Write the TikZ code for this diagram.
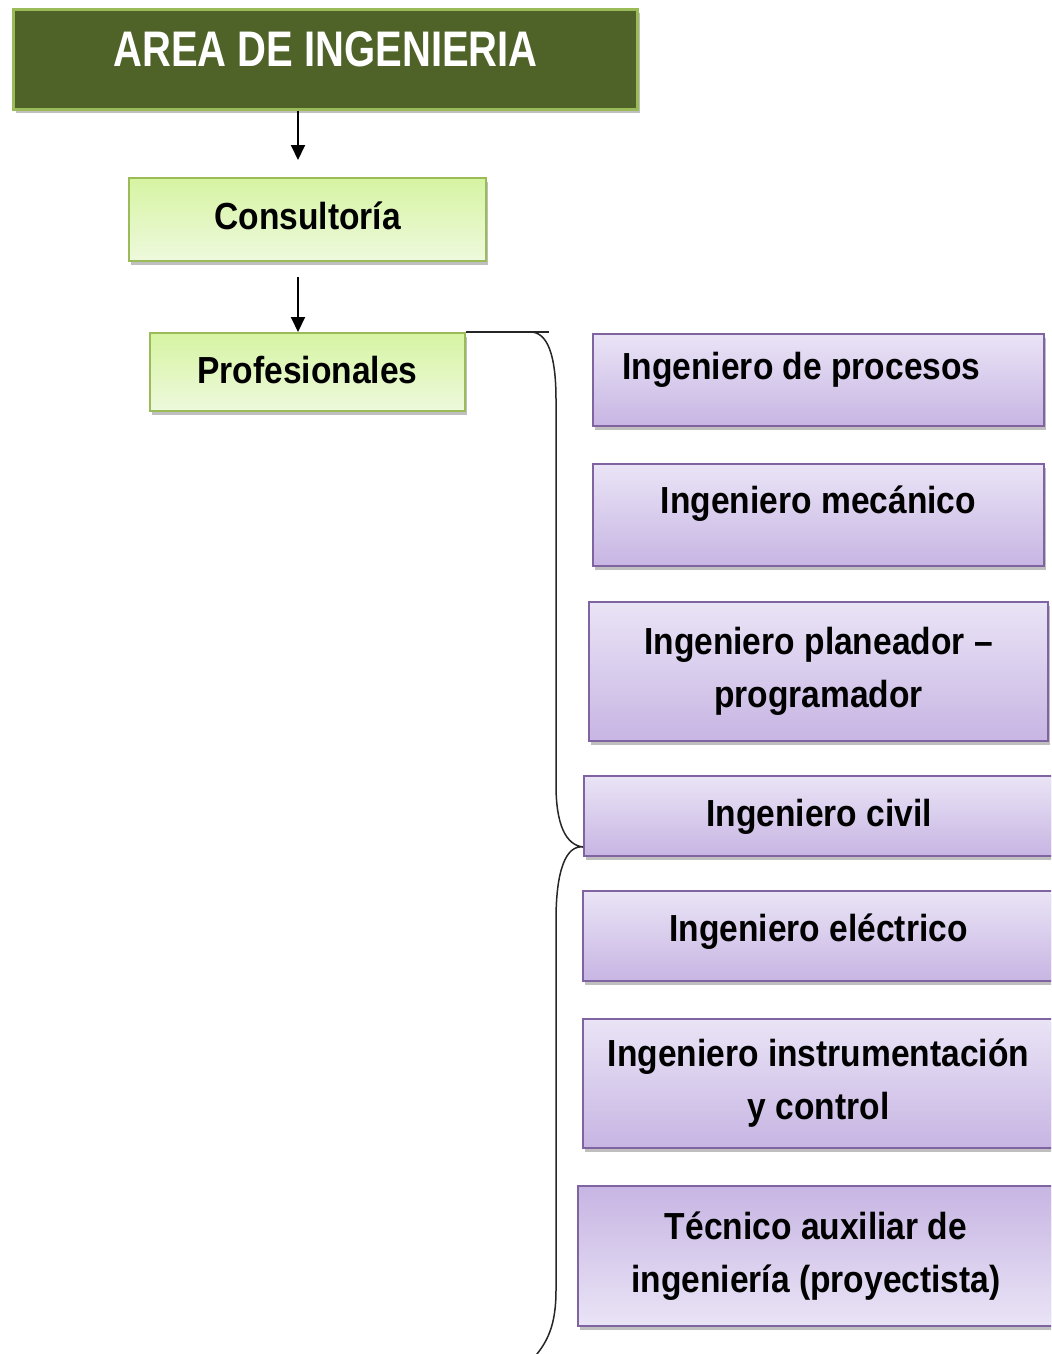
\documentclass[tikz,border=0pt]{standalone}
\usepackage{fontspec}
\setmainfont{Liberation Sans}[FakeStretch=0.89]
\newfontfamily\titlefont{Liberation Sans}[FakeStretch=0.80]
\usetikzlibrary{arrows.meta,shadows}

\definecolor{headOlive}{HTML}{4F6228}
\definecolor{lineGreen}{HTML}{9BBB59}
\definecolor{greenTop}{HTML}{D6F4A2}
\definecolor{greenBot}{HTML}{EEF9DD}
\definecolor{linePurple}{HTML}{8064A2}
\definecolor{purpTop}{HTML}{EAE4F6}
\definecolor{purpBot}{HTML}{C7B5E3}

\begin{document}
\begin{tikzpicture}[x=0.5pt, y=-0.5pt,
        every node/.style={rectangle, anchor=north west, inner sep=0pt,
            drop shadow={shadow xshift=1pt, shadow yshift=-2pt, opacity=0.5}},
        headbox/.style={draw=lineGreen, fill=headOlive, line width=1.5pt, text=white,
            font=\titlefont\bfseries\fontsize{25}{30}\selectfont},
        greenbox/.style={draw=lineGreen, line width=1pt, top color=greenTop, bottom color=greenBot,
            font=\bfseries\fontsize{18.85}{26.5}\selectfont},
        purplebox/.style={draw=linePurple, line width=1pt, top color=purpTop, bottom color=purpBot,
            font=\bfseries\fontsize{18.85}{26.5}\selectfont},
        arr/.style={-{Triangle[width=7pt,length=7.5pt]}, line width=1pt},
        brace/.style={draw=black!85, line width=0.75pt}
]
    \useasboundingbox (0,0) rectangle (1051,1354);
    \clip (0,0) rectangle (1051,1354);

    \node[headbox, minimum width=312pt, text height=28.5pt, text depth=21.5pt] (title) at (12,8) {AREA DE INGENIERIA};
    \node[greenbox, minimum width=178.5pt, text height=25.5pt, text depth=16pt] (consult) at (128,177) {Consultoría};
    \node[greenbox, minimum width=157.5pt, text height=25pt, text depth=14pt] (prof) at (149,332) {Profesionales};

    \node[purplebox, minimum width=225.5pt, text height=22.5pt, text depth=23.5pt] (proc) at (592,333) {Ingeniero de procesos\hspace{17pt}\null};
    \node[purplebox, minimum width=225.5pt, text height=24.5pt, text depth=26.5pt] (mec) at (592,463) {Ingeniero mecánico};
    \node[purplebox, minimum width=229.5pt, minimum height=69.5pt, align=center] (plan) at (588,601) {Ingeniero planeador --\\programador};
    \node[purplebox, minimum width=235pt, text height=25pt, text depth=15pt] (civil) at (583,775) {Ingeniero civil};
    \node[purplebox, minimum width=235.5pt, text height=25pt, text depth=20pt] (elec) at (582,890) {Ingeniero eléctrico};
    \node[purplebox, minimum width=235.5pt, minimum height=64.5pt, align=center] (instr) at (582,1018) {Ingeniero instrumentación\\y control};
    \node[purplebox, top color=purpBot, bottom color=purpTop, minimum width=238pt, minimum height=70pt, align=center] (tec) at (577,1185) {Técnico auxiliar de\\ingeniería (proyectista)};

    % arrows down the left column
    \coordinate (a1) at ([xshift=-4.75pt]consult.north);
    \coordinate (a2) at ([xshift=-4.75pt]prof.north);
    \draw[arr, shorten >=8.5pt] (title.south -| a1) -- (a1);
    \draw[arr, shorten <=7.5pt] (consult.south -| a2) -- (a2);

    % brace
    \coordinate (tip) at ([yshift=5pt]civil.south west);
    \draw[brace] (prof.north east) -- ++(83,0);
    \draw[brace] (532,332) .. controls (551,334) and (556,365) .. (556,400) -- (556,785)
        .. controls (556,825) and (566,845) .. (tip)
        .. controls (566,845) and (556,870) .. (556,920) -- (556,1290)
        .. controls (556,1325) and (548,1343) .. (530,1362);
\end{tikzpicture}
\end{document}
